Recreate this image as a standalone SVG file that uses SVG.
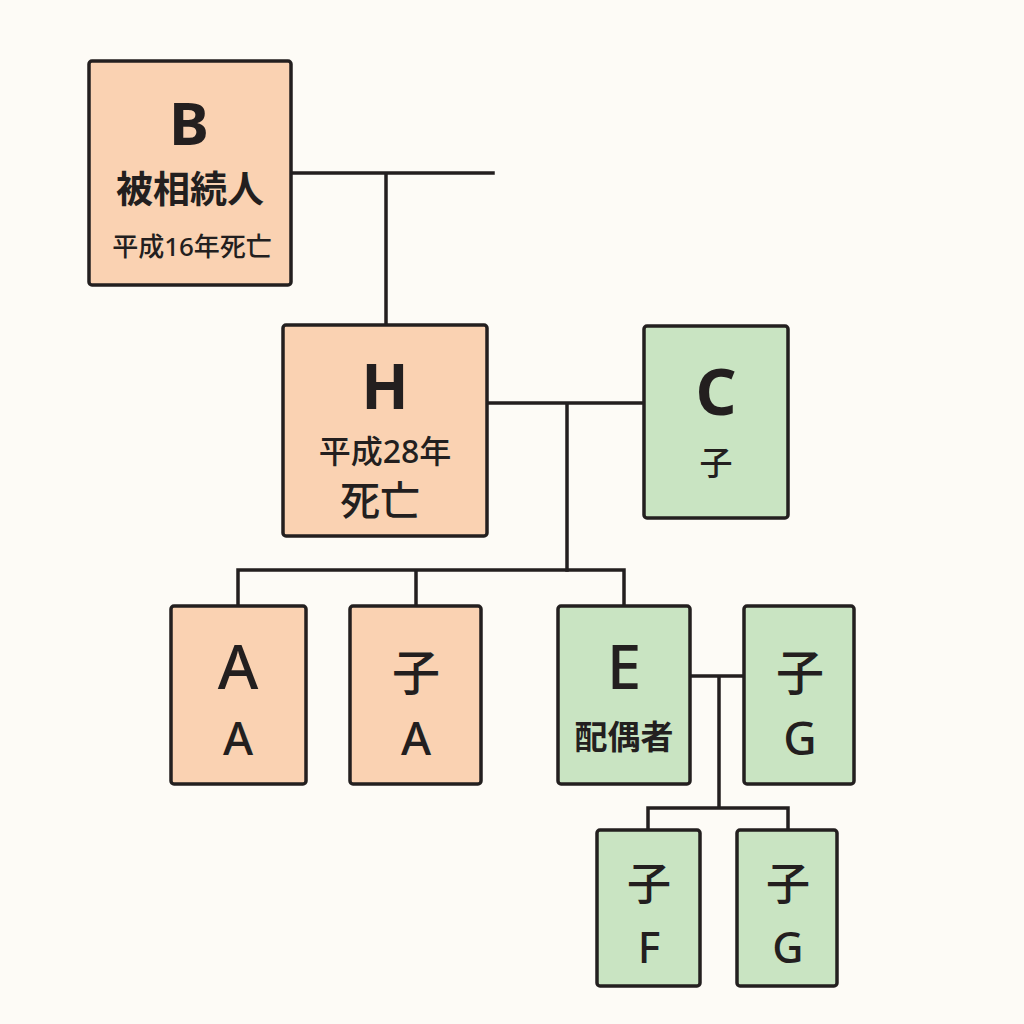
<svg xmlns="http://www.w3.org/2000/svg" width="1024" height="1024" viewBox="0 0 1024 1024">
<style>
.peach{fill:#FAD2B2;stroke:#231f1f;stroke-width:3.5}
.green{fill:#C9E4C2;stroke:#231f1f;stroke-width:3.5}
.ln{fill:none;stroke:#231f1f;stroke-width:3.5;stroke-linecap:square}
text{font-family:"Noto Sans","Noto Sans CJK JP",sans-serif;fill:#231f1f;text-anchor:middle}
.big{font-weight:700}
.med{font-weight:500}
</style>
<rect width="1024" height="1024" fill="#FDFBF6"/>
<g id="connectors">
<path class="ln" d="M291 173 H493 M386 173 V325"/>
<path class="ln" d="M487 403 H644 M567 403 V570"/>
<path class="ln" d="M238 570 H624 M238 570 V606 M416 570 V606 M624 570 V606"/>
<path class="ln" d="M690 676 H744 M719 676 V808 M648 808 H788 M648 808 V830 M788 808 V830"/>
</g>
<g id="node-B">
<rect class="peach" x="89" y="61" width="202" height="224" rx="3"/>
<text class="big" x="189" y="145" font-size="60">B</text>
<text class="big" x="190" y="203" font-size="37">被相続人</text>
<text class="med" x="192" y="256" font-size="26">平成16年死亡</text>
</g>
<g id="node-H">
<rect class="peach" x="283" y="325" width="204" height="211" rx="3"/>
<text class="big" x="385" y="409" font-size="62">H</text>
<text class="med" x="385" y="463" font-size="32">平成28年</text>
<text class="med" x="380" y="515" font-size="40">死亡</text>
</g>
<g id="node-C">
<rect class="green" x="644" y="326" width="144" height="192" rx="3"/>
<text class="big" x="716" y="415" font-size="64">C</text>
<text class="med" x="716" y="475" font-size="33">子</text>
</g>
<g id="node-A">
<rect class="peach" x="171" y="606" width="135" height="178" rx="3"/>
<text class="med" x="238" y="689" font-size="62">A</text>
<text class="med" x="238" y="755" font-size="46">A</text>
</g>
<g id="node-childA">
<rect class="peach" x="350" y="606" width="131" height="178" rx="3"/>
<text class="med" x="416" y="690" font-size="48">子</text>
<text class="med" x="416" y="755" font-size="46">A</text>
</g>
<g id="node-E">
<rect class="green" x="558" y="606" width="132" height="178" rx="3"/>
<text class="med" x="624" y="689" font-size="62">E</text>
<text class="big" x="624" y="749" font-size="33">配偶者</text>
</g>
<g id="node-childG1">
<rect class="green" x="744" y="606" width="110" height="178" rx="3"/>
<text class="med" x="800" y="690" font-size="48">子</text>
<text class="med" x="800" y="755" font-size="46">G</text>
</g>
<g id="node-childF">
<rect class="green" x="597" y="830" width="103" height="156" rx="3"/>
<text class="med" x="649" y="900" font-size="44">子</text>
<text class="med" x="649" y="963" font-size="43">F</text>
</g>
<g id="node-childG2">
<rect class="green" x="737" y="830" width="100" height="156" rx="3"/>
<text class="med" x="788" y="900" font-size="44">子</text>
<text class="med" x="788" y="963" font-size="43">G</text>
</g>
</svg>
